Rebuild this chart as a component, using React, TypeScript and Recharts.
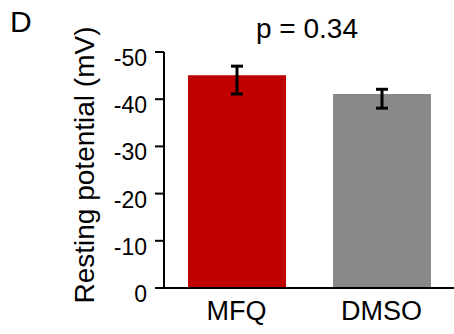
import React from "react";
import { BarChart, Bar, XAxis, YAxis, ErrorBar, Cell } from "recharts";

const groups: string[] = ["MFQ", "DMSO"];
const restingPotential: number[] = [-45.1, -41.1];
// [towards more negative, towards zero]
const errorSpread: [number, number][] = [
  [1.9, 4.0],
  [1.0, 3.0],
];
const barColors: string[] = ["#C00000", "#898989"];
const yTicks: number[] = [-50, -40, -30, -20, -10, 0];

const data = groups.map((g, i) => ({
  group: g,
  value: restingPotential[i],
  err: errorSpread[i],
}));

const FONT = '"Liberation Sans", Arial, sans-serif';

const YTick = (props: any) => {
  const { x, y, payload } = props;
  return (
    <text
      x={x}
      y={y + 6}
      textAnchor="end"
      dominantBaseline="central"
      fontSize={23}
      fontFamily={FONT}
      fill="#000"
    >
      {payload.value}
    </text>
  );
};

const YLabel = (props: any) => {
  const vb = props.viewBox || {};
  const cx = vb.x + 94;
  const cy = vb.y + vb.height / 2 - 5;
  return (
    <text
      x={cx}
      y={cy}
      transform={`rotate(-90, ${cx}, ${cy})`}
      textAnchor="middle"
      fontSize={28}
      fontFamily={FONT}
      fill="#000"
    >
      Resting potential (mV)
    </text>
  );
};

const App = () => (
  <div
    style={{
      position: "absolute",
      left: 0,
      top: 0,
      width: 454,
      height: 334,
      background: "#fff",
      fontFamily: FONT,
    }}
  >
    <div
      style={{
        position: "absolute",
        left: 10,
        top: 7,
        fontSize: 30,
        lineHeight: 1,
      }}
    >
      D
    </div>
    <div
      style={{
        position: "absolute",
        left: 207,
        top: 15,
        width: 200,
        textAlign: "center",
        fontSize: 28,
        lineHeight: 1,
      }}
    >
      p = 0.34
    </div>
    <BarChart
      width={454}
      height={334}
      data={data}
      margin={{ top: 52, right: 0, bottom: 0, left: 0 }}
      barSize={98}
    >
      <XAxis
        dataKey="group"
        axisLine={{ stroke: "#000", strokeWidth: 2 }}
        tickLine={false}
        tickSize={0}
        tickMargin={13}
        tick={{ fontSize: 27, fontFamily: FONT, fill: "#000" }}
        height={46}
      />
      <YAxis
        domain={[-50, 0]}
        reversed
        ticks={yTicks}
        interval={0}
        width={164}
        axisLine={{ stroke: "#000", strokeWidth: 2 }}
        tickLine={{ stroke: "#000", strokeWidth: 2 }}
        tickSize={9}
        tickMargin={8}
        tick={<YTick />}
        label={<YLabel />}
      />
      <Bar dataKey="value" isAnimationActive={false}>
        {data.map((d, i) => (
          <Cell key={d.group} fill={barColors[i]} />
        ))}
        <ErrorBar
          dataKey="err"
          width={6}
          stroke="#000"
          strokeWidth={3}
          isAnimationActive={false}
        />
      </Bar>
    </BarChart>
  </div>
);

export default App;
